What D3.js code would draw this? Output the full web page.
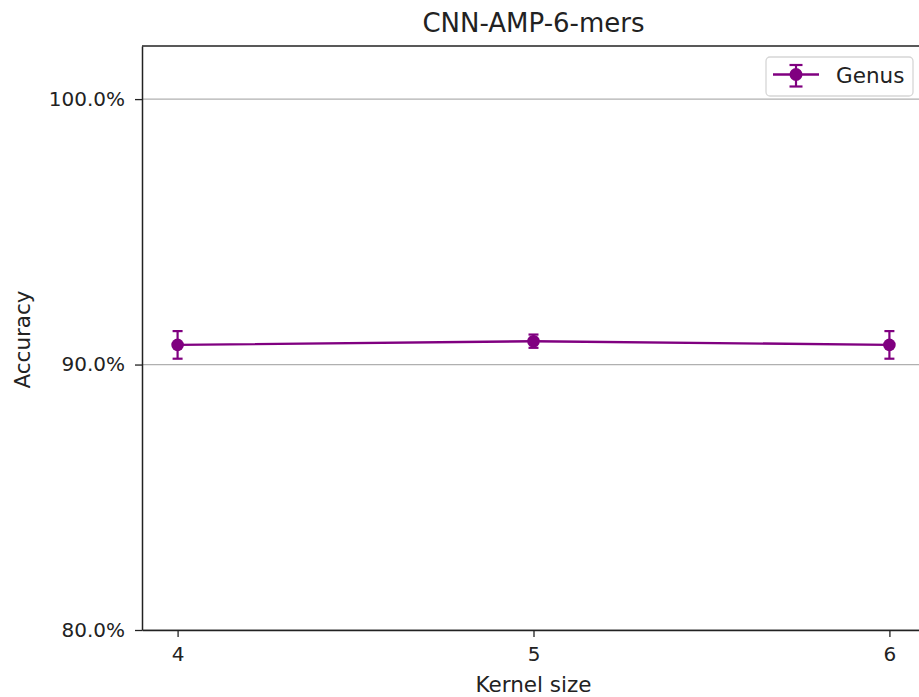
<!DOCTYPE html>
<html>
<head>
<meta charset="utf-8">
<script src="https://cdn.jsdelivr.net/npm/d3@7"></script>
<style>
  body { margin: 0; background: #fff; }
  svg { font-family: "DejaVu Sans", sans-serif; display: block; }
</style>
</head>
<body>
<div id="chart"></div>
<script>
var width = 919
var height = 697
var margin = { top: 46, left: 142, right: -6, bottom: 67 }

// data
var kernelSizes = [4, 5, 6]
var accuracy = [90.74, 90.88, 90.74]
var errors = [0.52, 0.25, 0.52]
var yTicks = [80, 90, 100]
var seriesName = 'Genus'
var color = '#800080'

var svg = d3.select('#chart').append('svg')
    .attr('width', width)
    .attr('height', height)

var x = d3.scaleLinear().domain([3.9, 6.1]).range([margin.left, width - margin.right])
var y = d3.scaleLinear().domain([80, 102]).range([height - margin.bottom, margin.top])

// grid
svg.append('g').selectAll('line').data(yTicks).enter().append('line')
    .attr('x1', margin.left).attr('x2', width - margin.right)
    .attr('y1', d => y(d)).attr('y2', d => y(d))
    .attr('stroke', '#b0b0b0').attr('stroke-width', 1.3)

// axes
var xAxis = svg.append('g')
    .attr('transform', 'translate(0,' + (height - margin.bottom) + ')')
    .call(d3.axisBottom(x).tickValues(kernelSizes).tickFormat(d3.format('d'))
        .tickSize(7).tickSizeOuter(0).tickPadding(10))
var yAxis = svg.append('g')
    .attr('transform', 'translate(' + margin.left + ',0)')
    .call(d3.axisLeft(y).tickValues(yTicks).tickFormat(d => d.toFixed(1) + '%')
        .tickSize(7).tickSizeOuter(0).tickPadding(10))
;[xAxis, yAxis].forEach(g => {
    g.select('.domain').attr('stroke', '#222').attr('stroke-width', 1.5)
    g.selectAll('.tick line').attr('stroke', '#222').attr('stroke-width', 1.3)
    g.selectAll('.tick text').attr('font-size', 20).attr('fill', '#222').attr('font-family', 'DejaVu Sans')
})
// top spine
svg.append('line')
    .attr('x1', margin.left).attr('x2', width - margin.right)
    .attr('y1', margin.top).attr('y2', margin.top)
    .attr('stroke', '#222').attr('stroke-width', 1.5)

// line
svg.append('path')
    .datum(kernelSizes)
    .attr('fill', 'none')
    .attr('stroke', color)
    .attr('stroke-width', 2.4)
    .attr('d', d3.line().x(d => x(d)).y((d, i) => y(accuracy[i])))

// error bars
var eb = svg.append('g').selectAll('g').data(kernelSizes).enter().append('g')
eb.append('line')
    .attr('x1', d => x(d)).attr('x2', d => x(d))
    .attr('y1', (d, i) => y(accuracy[i] - errors[i]))
    .attr('y2', (d, i) => y(accuracy[i] + errors[i]))
    .attr('stroke', color).attr('stroke-width', 2.2)
eb.selectAll('.cap').data((d, i) => [[d, accuracy[i] - errors[i]], [d, accuracy[i] + errors[i]]])
    .enter().append('line')
    .attr('x1', d => x(d[0]) - 5).attr('x2', d => x(d[0]) + 5)
    .attr('y1', d => y(d[1])).attr('y2', d => y(d[1]))
    .attr('stroke', color).attr('stroke-width', 2.2)
eb.append('circle')
    .attr('cx', d => x(d))
    .attr('cy', (d, i) => y(accuracy[i]))
    .attr('r', 6.3)
    .attr('fill', color)

// title and labels
svg.append('text')
    .attr('x', (margin.left + width - margin.right) / 2)
    .attr('y', 32)
    .attr('text-anchor', 'middle')
    .attr('font-size', 26)
    .attr('fill', '#222')
    .text('CNN-AMP-6-mers')
svg.append('text')
    .attr('x', (margin.left + width - margin.right) / 2)
    .attr('y', 692)
    .attr('text-anchor', 'middle')
    .attr('font-size', 21.5)
    .attr('fill', '#222')
    .text('Kernel size')
svg.append('text')
    .attr('transform', 'translate(30,339.5) rotate(-90)')
    .attr('text-anchor', 'middle')
    .attr('font-size', 21.5)
    .attr('fill', '#222')
    .text('Accuracy')

// legend
var lg = svg.append('g').attr('transform', 'translate(766,57)')
lg.append('rect')
    .attr('width', 147).attr('height', 39).attr('rx', 4)
    .attr('fill', '#fff').attr('stroke', '#d6d6d6').attr('stroke-width', 1.3)
lg.append('line').attr('x1', 7).attr('x2', 53).attr('y1', 17.5).attr('y2', 17.5)
    .attr('stroke', color).attr('stroke-width', 2.4)
lg.append('line').attr('x1', 30).attr('x2', 30).attr('y1', 8).attr('y2', 29.5)
    .attr('stroke', color).attr('stroke-width', 2.2)
lg.append('line').attr('x1', 23.5).attr('x2', 36.5).attr('y1', 8).attr('y2', 8)
    .attr('stroke', color).attr('stroke-width', 2.2)
lg.append('line').attr('x1', 23.5).attr('x2', 36.5).attr('y1', 29.5).attr('y2', 29.5)
    .attr('stroke', color).attr('stroke-width', 2.2)
lg.append('circle').attr('cx', 30).attr('cy', 17.5).attr('r', 6.5).attr('fill', color)
lg.append('text').attr('x', 70).attr('y', 26)
    .attr('font-size', 21.5).attr('fill', '#222').text(seriesName)
</script>
</body>
</html>
